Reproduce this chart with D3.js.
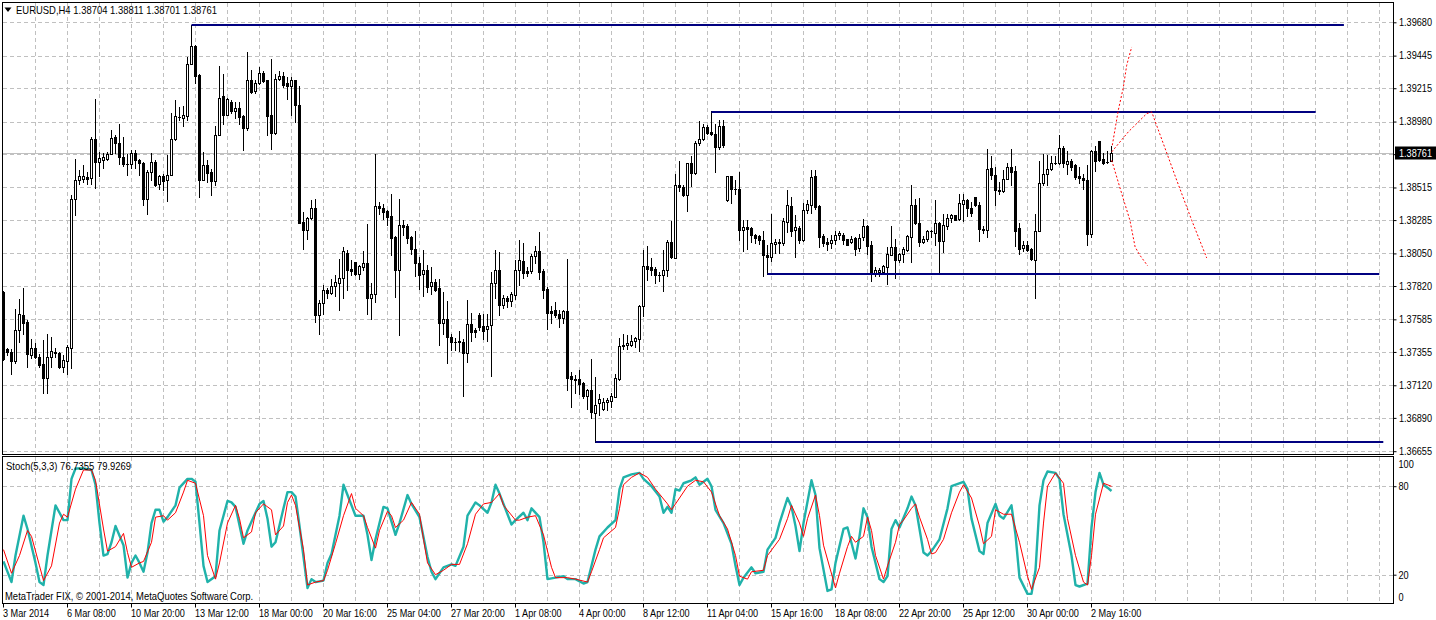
<!DOCTYPE html>
<html><head><meta charset="utf-8">
<script src="https://cdn.jsdelivr.net/npm/d3@7"></script>
<style>
html,body{margin:0;padding:0;background:#fff;overflow:hidden;}
svg{display:block;font-family:"Liberation Sans",Arial,sans-serif;}
</style></head><body>
<svg id="c" width="1436" height="620"></svg>
<script>
// ---------------- DATA ----------------
const symbolTitle = "EURUSD,H4";
const headerOHLC = ["1.38704","1.38811","1.38701","1.38761"];
const lastPrice = 1.38761;

const open = [
1.37779,1.37379,1.37356,1.37292,1.37513,1.37614,1.37567,1.37332,1.37386,1.37316,
1.37269,1.37172,1.37321,1.37351,1.37351,1.37250,1.37292,1.37386,1.38437,1.38571,
1.38578,1.38590,1.38585,1.38860,1.38695,1.38712,1.38719,1.38754,1.38872,1.38832,
1.38731,1.38684,1.38679,1.38761,1.38707,1.38691,1.38432,1.38625,1.38698,1.38543,
1.38594,1.38571,1.38606,1.38860,1.39013,1.39008,1.39020,1.39389,1.39511,1.39306,
1.38566,1.38672,1.38625,1.38561,1.38888,1.39158,1.39029,1.39118,1.39055,1.39078,
1.39017,1.38937,1.39271,1.39196,1.39252,1.39325,1.39271,1.39029,1.38900,1.39283,
1.39299,1.39252,1.39233,1.39271,1.39099,1.38270,1.38218,1.38303,1.38373,1.37619,
1.37701,1.37795,1.37772,1.37821,1.37842,1.37880,1.38056,1.37941,1.37986,1.37908,
1.37955,1.37979,1.37732,1.37767,1.38383,1.38373,1.38347,1.38312,1.38167,1.37936,
1.38249,1.38242,1.38167,1.38084,1.37983,1.37908,1.37932,1.37821,1.37845,1.37807,
1.37556,1.37584,1.37457,1.37426,1.37426,1.37426,1.37351,1.37551,1.37509,1.37619,
1.37537,1.37516,1.37544,1.37838,1.37932,1.37689,1.37732,1.37713,1.37760,1.37932,
1.37997,1.37927,1.37927,1.38033,1.38065,1.37924,1.37802,1.37645,1.37650,1.37626,
1.37591,1.37642,1.37184,1.37161,1.37161,1.37137,1.37043,1.37086,1.36921,1.36992,
1.36956,1.37003,1.37010,1.37039,1.37163,1.37400,1.37403,1.37403,1.37433,1.37443,
1.37678,1.37964,1.37953,1.37943,1.37899,1.37896,1.37932,1.38127,1.38021,1.38531,
1.38519,1.38460,1.38688,1.38618,1.38829,1.38860,1.38942,1.38904,1.38895,1.38801,
1.38947,1.38425,1.38594,1.38507,1.38507,1.38218,1.38237,1.38232,1.38178,1.38171,
1.38148,1.38037,1.38026,1.38115,1.38124,1.38120,1.38272,1.38383,1.38218,1.38232,
1.38143,1.38359,1.38394,1.38594,1.38383,1.38171,1.38131,1.38120,1.38148,1.38178,
1.38183,1.38155,1.38131,1.38162,1.38091,1.38167,1.38242,1.38108,1.37913,1.37920,
1.37920,1.37955,1.38042,1.38096,1.38002,1.38049,1.38077,1.38167,1.38390,1.38268,
1.38131,1.38150,1.38206,1.38197,1.38261,1.38138,1.38244,1.38300,1.38319,1.38291,
1.38402,1.38430,1.38373,1.38449,1.38394,1.38225,1.38218,1.38655,1.38601,1.38500,
1.38488,1.38578,1.38660,1.38629,1.38232,1.38089,1.38112,1.38080,1.38007,1.38209,
1.38547,1.38613,1.38644,1.38691,1.38688,1.38796,1.38679,1.38700,1.38672,1.38599,
1.38585,1.38566,1.38190,1.38770,1.38841,1.38719,1.38695,1.38704];

const high = [
1.37786,1.37384,1.37379,1.37661,1.37725,1.37807,1.37579,1.37443,1.37415,1.37339,
1.37438,1.37480,1.37462,1.37386,1.37356,1.37332,1.37403,1.38460,1.38719,1.38641,
1.38672,1.38625,1.38872,1.39142,1.38766,1.38759,1.38766,1.38919,1.38883,1.38966,
1.38872,1.38754,1.38782,1.38778,1.38719,1.38695,1.38637,1.38761,1.38707,1.38606,
1.38608,1.38742,1.39043,1.39135,1.39083,1.39088,1.39436,1.39659,1.39518,1.39318,
1.38766,1.38712,1.38648,1.38947,1.39370,1.39318,1.39149,1.39130,1.39118,1.39118,
1.39024,1.39471,1.39346,1.39271,1.39365,1.39337,1.39276,1.39424,1.39318,1.39337,
1.39330,1.39295,1.39295,1.39276,1.39229,1.38343,1.38308,1.38430,1.38437,1.37720,
1.37826,1.37807,1.37866,1.37896,1.38014,1.38096,1.38073,1.38002,1.37990,1.37967,
1.38065,1.38256,1.37838,1.38749,1.38413,1.38397,1.38355,1.38467,1.38171,1.38437,
1.38289,1.38256,1.38171,1.38209,1.38026,1.38077,1.37971,1.37955,1.37873,1.37866,
1.37779,1.37713,1.37480,1.37450,1.37504,1.37443,1.37720,1.37631,1.37527,1.37633,
1.37621,1.37626,1.37920,1.38077,1.38061,1.37755,1.37748,1.37779,1.38007,1.38148,
1.38124,1.37955,1.38049,1.38101,1.38202,1.37943,1.37814,1.37678,1.37708,1.37650,
1.37650,1.38014,1.37215,1.37191,1.37227,1.37144,1.37097,1.37302,1.37175,1.37057,
1.37031,1.37027,1.37062,1.37198,1.37450,1.37480,1.37473,1.37473,1.37462,1.37685,
1.38077,1.38105,1.38021,1.37955,1.37920,1.38073,1.38143,1.38277,1.38608,1.38700,
1.38531,1.38688,1.38735,1.38841,1.38982,1.38966,1.38958,1.39055,1.38966,1.38994,
1.38994,1.38594,1.38594,1.38571,1.38625,1.38284,1.38284,1.38237,1.38190,1.38178,
1.38209,1.38108,1.38331,1.38155,1.38155,1.38300,1.38500,1.38449,1.38319,1.38242,
1.38406,1.38430,1.38641,1.38637,1.38390,1.38190,1.38162,1.38178,1.38209,1.38209,
1.38195,1.38155,1.38171,1.38167,1.38185,1.38296,1.38249,1.38136,1.37955,1.37950,
1.37967,1.38096,1.38242,1.38155,1.38054,1.38096,1.38183,1.38535,1.38437,1.38444,
1.38171,1.38218,1.38218,1.38425,1.38272,1.38326,1.38331,1.38331,1.38324,1.38472,
1.38472,1.38437,1.38413,1.38449,1.38413,1.38244,1.38789,1.38735,1.38660,1.38554,
1.38637,1.38691,1.38785,1.38665,1.38261,1.38138,1.38138,1.38089,1.38326,1.38700,
1.38754,1.38742,1.38735,1.38738,1.38883,1.38806,1.38770,1.38719,1.38679,1.38660,
1.38613,1.38672,1.38778,1.38806,1.38841,1.38761,1.38770,1.38811];

const low = [
1.37297,1.37332,1.37203,1.37274,1.37426,1.37485,1.37250,1.37309,1.37309,1.37250,
1.37062,1.37062,1.37250,1.37321,1.37245,1.37215,1.37203,1.37243,1.38324,1.38543,
1.38554,1.38543,1.38543,1.38514,1.38594,1.38655,1.38712,1.38749,1.38759,1.38684,
1.38665,1.38601,1.38655,1.38655,1.38601,1.38390,1.38331,1.38566,1.38528,1.38507,
1.38496,1.38420,1.38601,1.38853,1.38989,1.38947,1.38994,1.39384,1.39252,1.38449,
1.38566,1.38554,1.38460,1.38531,1.38883,1.38966,1.39024,1.39041,1.39008,1.38966,
1.38778,1.38919,1.39182,1.39182,1.39248,1.39257,1.38883,1.38789,1.38895,1.39276,
1.39224,1.39142,1.39029,1.38977,1.38261,1.38084,1.38155,1.38291,1.37567,1.37485,
1.37626,1.37732,1.37762,1.37751,1.37650,1.37732,1.37795,1.37896,1.37901,1.37866,
1.37936,1.37626,1.37586,1.37708,1.38331,1.38291,1.38249,1.38037,1.37744,1.37478,
1.38178,1.38124,1.38049,1.37892,1.37802,1.37748,1.37779,1.37767,1.37786,1.37403,
1.37485,1.37274,1.37368,1.37372,1.37363,1.37043,1.37285,1.37433,1.37462,1.37509,
1.37443,1.37433,1.37184,1.37739,1.37614,1.37668,1.37673,1.37678,1.37725,1.37826,
1.37880,1.37889,1.37913,1.37979,1.37866,1.37732,1.37520,1.37556,1.37603,1.37532,
1.37560,1.37090,1.36968,1.37067,1.37057,1.37027,1.36956,1.36886,1.36721,1.36909,
1.36945,1.36949,1.36968,1.37039,1.37156,1.37379,1.37379,1.37396,1.37391,1.37360,
1.37610,1.37861,1.37896,1.37842,1.37856,1.37786,1.37889,1.38021,1.38016,1.38491,
1.38456,1.38350,1.38524,1.38613,1.38813,1.38853,1.38895,1.38883,1.38625,1.38789,
1.38801,1.38420,1.38406,1.38472,1.38143,1.38068,1.38084,1.38131,1.38124,1.38115,
1.37889,1.37906,1.37997,1.38054,1.38054,1.38108,1.38202,1.38171,1.38026,1.38124,
1.38138,1.38336,1.38336,1.38364,1.38096,1.38101,1.38073,1.38089,1.38115,1.38155,
1.38115,1.38108,1.38120,1.38037,1.38068,1.38143,1.38049,1.37856,1.37889,1.37889,
1.37908,1.37833,1.38037,1.37877,1.37990,1.37990,1.38068,1.37990,1.38256,1.38103,
1.38124,1.38138,1.38167,1.38108,1.37906,1.38061,1.38225,1.38272,1.38284,1.38284,
1.38279,1.38312,1.38312,1.38385,1.38138,1.38195,1.38167,1.38578,1.38390,1.38472,
1.38484,1.38573,1.38531,1.38103,1.38049,1.38068,1.38068,1.38002,1.37732,1.38206,
1.38535,1.38535,1.38637,1.38684,1.38684,1.38660,1.38613,1.38641,1.38578,1.38547,
1.38507,1.38108,1.38167,1.38632,1.38702,1.38679,1.38688,1.38701];

const close = [
1.37302,1.37356,1.37292,1.37513,1.37621,1.37556,1.37344,1.37386,1.37316,1.37262,
1.37172,1.37321,1.37360,1.37353,1.37250,1.37297,1.37391,1.38437,1.38566,1.38594,
1.38594,1.38578,1.38860,1.38695,1.38726,1.38731,1.38754,1.38867,1.38829,1.38731,
1.38679,1.38681,1.38761,1.38707,1.38688,1.38432,1.38625,1.38698,1.38533,1.38594,
1.38561,1.38601,1.38860,1.39020,1.39015,1.39029,1.39389,1.39511,1.39299,1.38566,
1.38672,1.38618,1.38561,1.38888,1.39149,1.39024,1.39137,1.39055,1.39078,1.39013,
1.38937,1.39271,1.39189,1.39252,1.39325,1.39266,1.39020,1.38900,1.39283,1.39299,
1.39240,1.39233,1.39271,1.39099,1.38265,1.38218,1.38303,1.38373,1.37619,1.37701,
1.37795,1.37772,1.37819,1.37845,1.37880,1.38065,1.37936,1.37927,1.37908,1.37960,
1.37979,1.37732,1.37767,1.38383,1.38371,1.38343,1.38308,1.38159,1.37936,1.38249,
1.38237,1.38162,1.38084,1.37983,1.37901,1.37932,1.37814,1.37845,1.37795,1.37556,
1.37584,1.37457,1.37426,1.37424,1.37429,1.37351,1.37551,1.37497,1.37497,1.37532,
1.37504,1.37537,1.37838,1.37932,1.37689,1.37732,1.37713,1.37762,1.37936,1.38002,
1.37913,1.37913,1.38035,1.38065,1.37920,1.37795,1.37631,1.37631,1.37614,1.37591,
1.37642,1.37172,1.37161,1.37158,1.37128,1.37043,1.37086,1.36933,1.36984,1.37022,
1.37003,1.37015,1.37046,1.37168,1.37396,1.37403,1.37415,1.37433,1.37450,1.37678,
1.37964,1.37943,1.37932,1.37896,1.37896,1.37932,1.38127,1.38026,1.38531,1.38519,
1.38460,1.38688,1.38618,1.38829,1.38860,1.38942,1.38900,1.38895,1.38801,1.38947,
1.38813,1.38594,1.38507,1.38505,1.38218,1.38237,1.38225,1.38178,1.38159,1.38148,
1.38037,1.38026,1.38124,1.38131,1.38127,1.38277,1.38390,1.38209,1.38237,1.38143,
1.38359,1.38402,1.38590,1.38378,1.38167,1.38124,1.38115,1.38148,1.38178,1.38195,
1.38148,1.38112,1.38155,1.38084,1.38162,1.38242,1.38101,1.37903,1.37936,1.37936,
1.37960,1.38049,1.38096,1.38007,1.38049,1.38084,1.38171,1.38390,1.38268,1.38131,
1.38155,1.38206,1.38209,1.38268,1.38138,1.38249,1.38303,1.38319,1.38289,1.38409,
1.38430,1.38373,1.38336,1.38394,1.38221,1.38214,1.38648,1.38606,1.38500,1.38488,
1.38578,1.38660,1.38625,1.38209,1.38084,1.38112,1.38073,1.38009,1.38209,1.38550,
1.38613,1.38648,1.38691,1.38688,1.38796,1.38691,1.38700,1.38660,1.38590,1.38582,
1.38566,1.38190,1.38770,1.38702,1.38707,1.38688,1.38698,1.38761];

const priceTicks = [1.39680,1.39445,1.39215,1.38980,1.38750,1.38515,1.38285,1.38050,1.37820,1.37585,1.37355,1.37120,1.36890,1.36655];

const dateLabels = ["3 Mar 2014","6 Mar 08:00","10 Mar 20:00","13 Mar 12:00","18 Mar 00:00","20 Mar 16:00",
"25 Mar 04:00","27 Mar 20:00","1 Apr 08:00","4 Apr 00:00","8 Apr 12:00","11 Apr 04:00","15 Apr 16:00",
"18 Apr 08:00","22 Apr 20:00","25 Apr 12:00","30 Apr 00:00","2 May 16:00"];
const barsPerDateLabel = 16;
const barsPerGrid = 8;

// Stochastic (5,3,3): bar index -> value
const stochKBars = [0,2,3,5,6,8,9,10,11,13,14,15,16,17,18,20,22,23,24,25,26,27,28,30,31,32,33,34,35,36,37,38,39,40,41,43,44,46,47,48,49,50,51,53,54,56,57,58,60,61,63,64,65,66,67,68,70,71,72,73,74,76,77,78,80,81,82,84,85,86,88,90,91,92,93,95,96,97,98,99,101,102,104,106,107,108,109,110,112,113,115,116,118,119,121,122,123,124,126,127,128,130,131,132,134,135,136,138,140,141,143,145,146,148,149,151,153,154,155,156,157,159,160,162,164,165,166,167,168,169,170,172,173,174,175,176,177,178,180,182,183,184,185,187,188,190,191,193,194,196,197,198,199,200,202,203,204,206,207,208,210,211,213,214,215,216,217,219,220,221,222,223,224,226,227,228,230,231,232,234,236,237,240,241,242,244,245,246,248,249,250,252,253,254,256,257,258,259,260,261,263,264,265,267,268,269,271,272,273,274,275,276,277];
const stochKVals = [29,15,33,60,51,28,15,13,33,67,62,57,57,85,92,92,91,81,55,33,34,42,53,40,18,28,33,28,22,35,55,64,64,56,59,67,79,85,85,83,55,26,15,19,50,70,69,66,41,50,62,68,70,58,39,42,65,76,76,73,53,11,17,15,16,28,34,60,81,74,60,60,47,30,44,66,65,56,47,55,74,68,59,32,22,17,21,25,27,26,39,60,69,67,62,69,81,75,61,54,57,62,57,65,59,42,17,18,19,17,17,14,15,37,46,52,57,78,86,87,88,89,85,80,73,62,66,62,78,77,82,84,86,81,83,85,80,64,55,41,26,13,18,25,21,22,37,45,55,72,66,53,36,55,84,74,38,9,10,28,51,52,31,46,65,59,39,17,15,19,51,57,52,65,73,67,35,33,36,44,65,80,83,78,58,36,34,55,68,60,58,67,47,18,7,7,23,67,84,90,89,85,61,33,13,12,14,52,76,89,81,79,76.7355];
const stochDBars = [0,2,4,6,7,9,10,12,14,15,16,18,20,22,23,25,26,28,30,31,32,34,35,37,38,40,41,43,45,46,48,50,51,53,54,56,58,59,60,62,63,65,67,68,70,71,72,73,75,76,78,80,81,83,85,87,88,90,91,93,94,96,97,98,100,102,104,105,106,108,110,112,114,116,118,120,122,124,125,128,129,131,133,135,137,138,141,143,146,147,149,150,153,154,155,157,159,161,163,166,167,169,171,173,175,177,179,181,183,184,186,187,190,191,194,196,197,199,200,201,203,204,205,208,209,211,212,213,215,216,217,218,220,221,223,224,225,227,228,229,231,232,233,235,237,239,240,242,244,245,247,248,250,252,254,256,257,259,260,261,263,265,266,268,270,271,272,273,275,277];
const stochDVals = [37,21,33,50,46,26,16,26,55,61,59,78,91,91,84,51,36,39,48,35,25,28,29,42,59,60,57,62,76,84,82,60,33,17,28,55,67,58,45,49,62,68,64,47,53,69,74,67,37,13,15,16,23,41,60,75,65,60,52,38,50,63,60,52,57,69,61,44,28,20,23,27,27,41,61,68,69,75,67,57,57,59,60,47,25,18,18,17,15,22,37,45,52,65,81,86,89,86,78,68,64,72,80,84,83,76,60,51,33,19,17,22,23,33,44,58,67,55,46,58,74,60,40,11,21,39,46,42,46,59,50,33,17,26,42,54,57,65,68,59,44,34,35,44,62,76,81,72,53,41,46,64,61,61,42,19,10,25,55,80,89,82,58,33,15,13,33,61,82,79.9269];
const stochTitle = "Stoch(5,3,3) 76.7355 79.9269";
const stochLevels = [20, 80];
const stochAxisLabels = [100, 80, 20, 0];

// Drawn objects (bar index, price)
const levelLines = [
  {from:47,  to:335.1, price:1.39659},
  {from:177, to:328.05, price:1.39048},
  {from:191, to:343.95, price:1.37906},
  {from:148, to:344.95, price:1.36721}
];
const projA = [[277.2,1.38813],[278.7,1.39060],[279.95,1.39220],[280.8,1.39377],[282.05,1.39506]];
const projB = [[277.05,1.38766],[281.2,1.38907],[285.8,1.39036],[287.05,1.39048],[289.95,1.38825],[293.3,1.38566],[297.05,1.38284],[300.8,1.38018]];
const projC = [[277.05,1.38707],[279.55,1.38472],[281.6,1.38284],[282.9,1.38096],[284.1,1.38037],[286.05,1.37962]];
const copyrightText = "MetaTrader FIX, \u00A9 2001-2014, MetaQuotes Software Corp.";

// ---------------- DRAW ----------------
const svg = d3.select("#c");
const GRID = "#c0c0c0", NAVY = "#000080", TEAL = "#20B2AA";
const FONT = "'Liberation Sans', Arial, sans-serif";
const FS = 10.5;
const xAxisRight = 1393.5;
const x = d3.scaleLinear().domain([0, 347.375]).range([3.5, 1393]);
const y = d3.scaleLinear().domain([1.36655, 1.39680]).range([451.2, 22.3]);
const ys = d3.scaleLinear().domain([0, 100]).range([604.2, 456.7]);

function squeeze(sel, f) {
  sel.each(function () {
    const L = this.getComputedTextLength();
    if (L > 0) d3.select(this).attr("textLength", (L * f).toFixed(1)).attr("lengthAdjust", "spacingAndGlyphs");
  });
}
const px = v => Math.round(v) + 0.5;

const defs = svg.append("defs");
defs.append("clipPath").attr("id", "cm").append("rect").attr("x", 3).attr("y", 3).attr("width", 1390).attr("height", 451);
defs.append("clipPath").attr("id", "cs").append("rect").attr("x", 3).attr("y", 457).attr("width", 1390).attr("height", 146);

// grid main
const gMain = svg.append("g").attr("clip-path", "url(#cm)");
const gridBars = d3.range(barsPerGrid, 348, barsPerGrid);
gMain.selectAll("line.vg").data(gridBars).join("line")
  .attr("x1", d => Math.floor(x(d)) + 0.5).attr("x2", d => Math.floor(x(d)) + 0.5)
  .attr("y1", 3).attr("y2", 454).attr("stroke", GRID).attr("stroke-dasharray", "4,3");
gMain.selectAll("line.hg").data(priceTicks).join("line")
  .attr("x1", 3).attr("x2", 1393).attr("y1", d => px(y(d))).attr("y2", d => px(y(d)))
  .attr("stroke", GRID).attr("stroke-dasharray", "4,3");
// bid line
gMain.append("line").attr("x1", 3).attr("x2", 1393).attr("y1", px(y(lastPrice))).attr("y2", px(y(lastPrice)))
  .attr("stroke", GRID);

// candles
const idx = d3.range(open.length);
const gC = gMain.append("g");
gC.selectAll("line.w").data(idx).join("line")
  .attr("x1", i => Math.floor(x(i)) + 0.5).attr("x2", i => Math.floor(x(i)) + 0.5)
  .attr("y1", i => Math.round(y(high[i]))).attr("y2", i => Math.round(y(low[i])) + 1)
  .attr("stroke", "#000").attr("stroke-width", 1);
idx.forEach(i => {
  const cx = Math.floor(x(i));
  const top = Math.round(y(Math.max(open[i], close[i])));
  const bot = Math.round(y(Math.min(open[i], close[i])));
  if (bot - top < 1) {
    gC.append("line").attr("x1", cx - 1).attr("x2", cx + 2).attr("y1", top + 0.5).attr("y2", top + 0.5).attr("stroke", "#000");
  } else if (close[i] > open[i]) {
    gC.append("rect").attr("x", cx - 0.5).attr("y", top + 0.5).attr("width", 2).attr("height", bot - top)
      .attr("fill", "#fff").attr("stroke", "#000").attr("stroke-width", 1);
  } else {
    gC.append("rect").attr("x", cx - 1).attr("y", top).attr("width", 3).attr("height", bot - top + 1).attr("fill", "#000");
  }
});

// level lines
gMain.selectAll("line.lv").data(levelLines).join("line")
  .attr("x1", d => x(d.from)).attr("x2", d => x(d.to))
  .attr("y1", d => Math.round(y(d.price))).attr("y2", d => Math.round(y(d.price)))
  .attr("stroke", NAVY).attr("stroke-width", 2);
// projections
const pl = d3.line().x(d => x(d[0])).y(d => y(d[1]));
[projA, projB, projC].forEach(p => gMain.append("path").attr("d", pl(p)).attr("fill", "none")
  .attr("stroke", "#ff0000").attr("stroke-width", 1).attr("stroke-dasharray", "2,2"));

// stoch panel
const gS = svg.append("g").attr("clip-path", "url(#cs)");
gS.selectAll("line.vg").data(gridBars).join("line")
  .attr("x1", d => Math.floor(x(d)) + 0.5).attr("x2", d => Math.floor(x(d)) + 0.5)
  .attr("y1", 457).attr("y2", 603).attr("stroke", GRID).attr("stroke-dasharray", "4,3");
gS.selectAll("line.lv").data(stochLevels).join("line")
  .attr("x1", 3).attr("x2", 1393).attr("y1", d => px(ys(d))).attr("y2", d => px(ys(d)))
  .attr("stroke", GRID).attr("stroke-dasharray", "4,3");
const kData = stochKBars.map((b, j) => [b, stochKVals[j]]);
const dData = stochDBars.map((b, j) => [b, stochDVals[j]]);
const sl = d3.line().x(d => x(d[0])).y(d => ys(d[1]));
gS.append("path").attr("d", sl(kData)).attr("fill", "none").attr("stroke", TEAL).attr("stroke-width", 2.4).attr("stroke-linejoin", "round");
gS.append("path").attr("d", sl(dData)).attr("fill", "none").attr("stroke", "#ff0000").attr("stroke-width", 1);

// frames
const fr = svg.append("g").attr("fill", "none").attr("stroke", "#000");
fr.append("rect").attr("x", 2.5).attr("y", 2.5).attr("width", 1391).attr("height", 452);
fr.append("rect").attr("x", 2.5).attr("y", 456.5).attr("width", 1391).attr("height", 147);

// price axis
const yAxis = d3.axisRight(y).tickValues(priceTicks).tickSize(3).tickPadding(2).tickFormat(d3.format(".5f"));
const gY = svg.append("g").attr("transform", `translate(${xAxisRight},0)`).call(yAxis);
gY.select(".domain").remove();
gY.selectAll(".tick line").attr("stroke", "#000");
gY.selectAll(".tick text").attr("font-family", FONT).attr("font-size", FS).attr("fill", "#000").attr("x", 5.5).call(squeeze, 0.87);
// current price box
const gP = svg.append("g").attr("transform", `translate(0,${Math.round(y(lastPrice))})`);
gP.append("rect").attr("x", 1395).attr("y", -6.5).attr("width", 41).attr("height", 13).attr("fill", "#000");
gP.append("text").attr("x", 1399).attr("y", 4).attr("font-family", FONT).attr("font-size", FS).attr("fill", "#fff")
  .text(lastPrice.toFixed(5)).call(squeeze, 0.87);

// stoch axis
const sAx = d3.axisRight(ys).tickValues(stochAxisLabels).tickSize(3).tickPadding(2);
const gSA = svg.append("g").attr("transform", `translate(${xAxisRight},0)`).call(sAx);
gSA.select(".domain").remove();
gSA.selectAll(".tick line").attr("stroke", "#000");
gSA.selectAll(".tick text").attr("font-family", FONT).attr("font-size", FS).attr("fill", "#000").attr("x", 5)
  .attr("dy", d => d === 100 ? "1.05em" : d === 0 ? "-0.35em" : "0.32em").call(squeeze, 0.87);
gSA.selectAll(".tick").filter(d => d === 100 || d === 0).select("line").remove();

// date axis
const dateBars = dateLabels.map((_, k) => k * barsPerDateLabel);
const xAx = d3.axisBottom(x).tickValues(dateBars).tickSize(4).tickPadding(2).tickFormat((d, k) => dateLabels[k]);
const gX = svg.append("g").attr("transform", "translate(0,603.5)").call(xAx);
gX.select(".domain").remove();
gX.selectAll(".tick line").attr("stroke", "#000").attr("transform", "translate(-0.5,0)");
gX.selectAll(".tick text").attr("font-family", FONT).attr("font-size", FS).attr("fill", "#000")
  .attr("text-anchor", "start").attr("x", -1).attr("y", 4).attr("dy", "0.95em").call(squeeze, 0.87);

// header texts
svg.append("path").attr("d", "M4.5,7.5 L11.5,7.5 L8,12 Z").attr("fill", "#000");
svg.append("text").attr("x", 16).attr("y", 14).attr("font-family", FONT).attr("font-size", FS)
  .text(symbolTitle + "  " + headerOHLC.join(" ")).call(squeeze, 0.9);
svg.append("text").attr("x", 6).attr("y", 470).attr("font-family", FONT).attr("font-size", FS)
  .text(stochTitle).call(squeeze, 0.9);
svg.append("text").attr("x", 5).attr("y", 600).attr("font-family", FONT).attr("font-size", FS)
  .text(copyrightText).call(squeeze, 0.9);
</script>
</body></html>
